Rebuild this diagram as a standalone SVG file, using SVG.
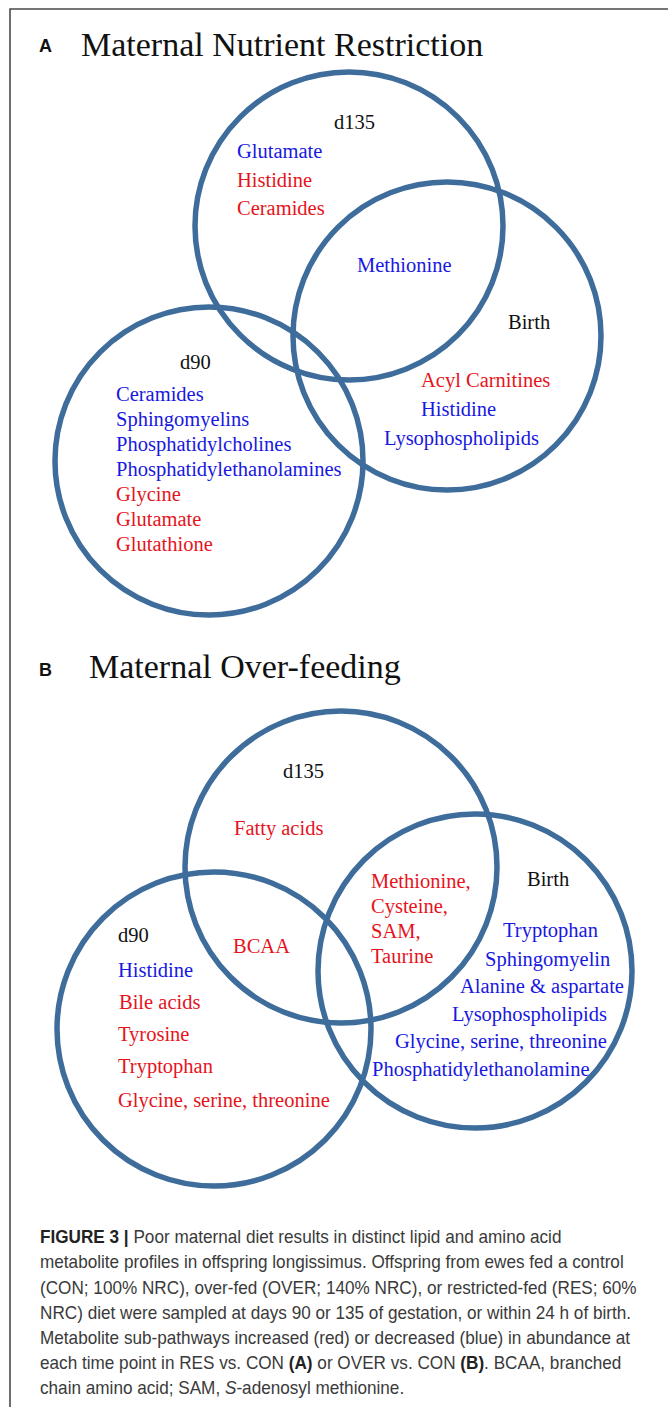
<svg xmlns="http://www.w3.org/2000/svg" width="668" height="1407" viewBox="0 0 668 1407">
<style>
.ring{fill:none;stroke:#3e6c9b;stroke-width:5.5}
.t{font-family:"Liberation Serif","Times New Roman",serif;font-size:20.5px}
.title{font-family:"Liberation Serif","Times New Roman",serif;font-size:34px;fill:#111}
.panel{font-family:"Liberation Sans",Arial,sans-serif;font-size:18px;font-weight:bold;fill:#111}
.k{fill:#111}
.b{fill:#1818e0}
.r{fill:#e5141c}
.cap{font-family:"Liberation Sans",Arial,sans-serif;font-size:18px;fill:#3a3a3a}
.bold{font-weight:bold;fill:#222}
</style>
<rect width="668" height="1407" fill="#fff"/>
<path d="M10 1407 V9 H668" fill="none" stroke="#4a4a4a" stroke-width="1.6"/>

<g id="panel-a-title">
<text class="panel" x="39" y="52">A</text>
<text class="title" x="81" y="56">Maternal Nutrient Restriction</text>
</g>

<g id="a-d135">
<circle class="ring" cx="349" cy="226" r="154"/>
<text class="t k" x="334" y="129">d135</text>
<text class="t b" x="237" y="158">Glutamate</text>
<text class="t r" x="237" y="187">Histidine</text>
<text class="t r" x="237" y="215">Ceramides</text>
</g>
<g id="a-d135-birth">
<text class="t b" x="357" y="272">Methionine</text>
</g>
<g id="a-birth">
<circle class="ring" cx="447" cy="336" r="154"/>
<text class="t k" x="508" y="329">Birth</text>
<text class="t r" x="421" y="387">Acyl Carnitines</text>
<text class="t b" x="421" y="416">Histidine</text>
<text class="t b" x="384" y="445">Lysophospholipids</text>
</g>
<g id="a-d90">
<circle class="ring" cx="209" cy="461" r="154"/>
<text class="t k" x="180" y="369">d90</text>
<text class="t b" x="116" y="401">Ceramides</text>
<text class="t b" x="116" y="426">Sphingomyelins</text>
<text class="t b" x="116" y="451">Phosphatidylcholines</text>
<text class="t b" x="116" y="476">Phosphatidylethanolamines</text>
<text class="t r" x="116" y="501">Glycine</text>
<text class="t r" x="116" y="526">Glutamate</text>
<text class="t r" x="116" y="551">Glutathione</text>
</g>

<g id="panel-b-title">
<text class="panel" x="39" y="676">B</text>
<text class="title" x="89" y="678">Maternal Over-feeding</text>
</g>

<g id="b-d135">
<circle class="ring" cx="341" cy="867" r="156"/>
<text class="t k" x="283" y="778">d135</text>
<text class="t r" x="234" y="835">Fatty acids</text>
</g>
<g id="b-d135-d90">
<text class="t r" x="233" y="953">BCAA</text>
</g>
<g id="b-d135-birth">
<text class="t r" x="371" y="888">Methionine,</text>
<text class="t r" x="371" y="913">Cysteine,</text>
<text class="t r" x="371" y="938">SAM,</text>
<text class="t r" x="371" y="963">Taurine</text>
</g>
<g id="b-birth">
<circle class="ring" cx="475" cy="971" r="157"/>
<text class="t k" x="527" y="886">Birth</text>
<text class="t b" x="503" y="937">Tryptophan</text>
<text class="t b" x="485" y="966">Sphingomyelin</text>
<text class="t b" x="460" y="993">Alanine &amp; aspartate</text>
<text class="t b" x="452" y="1021">Lysophospholipids</text>
<text class="t b" x="395" y="1048">Glycine, serine, threonine</text>
<text class="t b" x="372" y="1076">Phosphatidylethanolamine</text>
</g>
<g id="b-d90">
<circle class="ring" cx="214" cy="1029" r="157"/>
<text class="t k" x="118" y="942">d90</text>
<text class="t b" x="118" y="977">Histidine</text>
<text class="t r" x="119" y="1009">Bile acids</text>
<text class="t r" x="118" y="1041">Tyrosine</text>
<text class="t r" x="118" y="1073">Tryptophan</text>
<text class="t r" x="118" y="1107">Glycine, serine, threonine</text>
</g>

<g id="connectors"></g>

<g id="caption" transform="translate(40,0) scale(0.953,1)">
<text class="cap" x="0" y="1243"><tspan class="bold">FIGURE 3 |</tspan> Poor maternal diet results in distinct lipid and amino acid</text>
<text class="cap" x="0" y="1268">metabolite profiles in offspring longissimus. Offspring from ewes fed a control</text>
<text class="cap" x="0" y="1294">(CON; 100% NRC), over-fed (OVER; 140% NRC), or restricted-fed (RES; 60%</text>
<text class="cap" x="0" y="1319">NRC) diet were sampled at days 90 or 135 of gestation, or within 24 h of birth.</text>
<text class="cap" x="0" y="1344">Metabolite sub-pathways increased (red) or decreased (blue) in abundance at</text>
<text class="cap" x="0" y="1369">each time point in RES vs. CON <tspan class="bold">(A)</tspan> or OVER vs. CON <tspan class="bold">(B)</tspan>. BCAA, branched</text>
<text class="cap" x="0" y="1394">chain amino acid; SAM, <tspan font-style="italic">S</tspan>-adenosyl methionine.</text>
</g>
</svg>
